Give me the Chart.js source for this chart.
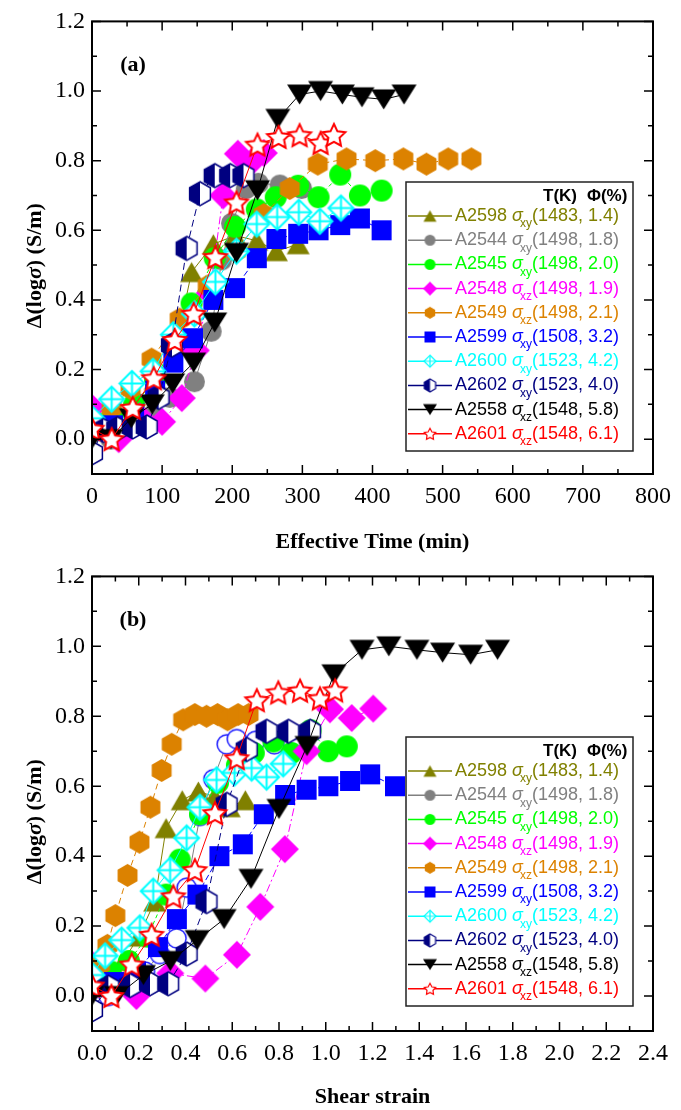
<!DOCTYPE html>
<html>
<head>
<meta charset="utf-8">
<script src="https://cdn.jsdelivr.net/npm/chart.js@4.4.1/dist/chart.umd.min.js"></script>
<style>
  html, body { margin: 0; padding: 0; background: #fff; }
  .panel { width: 681px; height: 555px; }
  canvas { display: block; }
</style>
</head>
<body>
<div class="panel"><canvas id="chartA" width="681" height="555"></canvas></div>
<div class="panel"><canvas id="chartB" width="681" height="555"></canvas></div>
<script>
// Conductivity change Δ(logσ) against effective time (a) and shear strain (b)

const timeTicks = [0, 100, 200, 300, 400, 500, 600, 700, 800];
const timeMinor = [50, 150, 250, 350, 450, 550, 650, 750];
const strainTicks = [0, 0.2, 0.4, 0.6, 0.8, 1.0, 1.2, 1.4, 1.6, 1.8, 2.0, 2.2, 2.4];
const strainMinor = [0.1, 0.3, 0.5, 0.7, 0.9, 1.1, 1.3, 1.5, 1.7, 1.9, 2.1, 2.3];
const dlogTicks = [0, 0.2, 0.4, 0.6, 0.8, 1.0, 1.2];
const dlogMinor = [0.1, 0.3, 0.5, 0.7, 0.9, 1.1];

// A2598 σxy (1483, 1.4)
const timeA2598 = [0, 30, 60, 90, 120, 142, 173, 204, 235, 263, 294];
const strainA2598 = [0, 0.067, 0.134, 0.2, 0.268, 0.317, 0.386, 0.455, 0.524, 0.587, 0.656];
const dlogA2598 = [0.04, 0.07, 0.10, 0.17, 0.27, 0.48, 0.56, 0.585, 0.57, 0.54, 0.56];

// A2544 σxy (1498, 1.8)
const timeA2544 = [0, 27, 58, 87, 111, 146, 170, 185, 199, 220, 237, 268, 299];
const strainA2544 = [0, 0.07, 0.15, 0.227, 0.29, 0.362, 0.405, 0.462, 0.519, 0.576, 0.619, 0.70, 0.78];
const dlogA2544 = [0.02, 0.0, 0.04, 0.07, 0.12, 0.165, 0.31, 0.515, 0.62, 0.72, 0.735, 0.73, 0.72];

// A2545 σxy (1498, 2.0)
const timeA2545 = [0, 30, 60, 90, 120, 142, 175, 204, 235, 262, 294, 323, 354, 382, 413];
const strainA2545 = [0, 0.08, 0.158, 0.238, 0.317, 0.375, 0.462, 0.539, 0.62, 0.692, 0.776, 0.853, 0.935, 1.01, 1.09];
const dlogA2545 = [0.06, 0.07, 0.10, 0.17, 0.29, 0.39, 0.52, 0.61, 0.66, 0.695, 0.728, 0.695, 0.76, 0.70, 0.714];

// A2548 σxz (1498, 1.9)
const timeA2548 = [0, 38, 68, 100, 128, 148, 168, 187, 208, 227, 245];
const strainA2548 = [0, 0.19, 0.335, 0.485, 0.62, 0.72, 0.825, 0.918, 1.018, 1.111, 1.203];
const dlogA2548 = [0.09, 0.0, 0.065, 0.05, 0.118, 0.255, 0.42, 0.70, 0.82, 0.795, 0.822];

// A2549 σxz (1498, 2.1)
const timeA2549 = [0, 28, 55, 85, 125, 165, 205, 245, 282, 322, 363, 404, 444, 477, 508, 541];
const strainA2549 = [0, 0.034, 0.066, 0.1, 0.152, 0.203, 0.25, 0.298, 0.341, 0.39, 0.44, 0.49, 0.537, 0.58, 0.625, 0.67];
const dlogA2549 = [0.05, 0.09, 0.145, 0.23, 0.345, 0.44, 0.54, 0.645, 0.72, 0.79, 0.805, 0.80, 0.805, 0.79, 0.805, 0.805];

// A2599 σxy (1508, 3.2)
const timeA2599 = [0, 30, 60, 90, 116, 144, 173, 204, 235, 263, 294, 323, 354, 382, 413];
const strainA2599 = [0, 0.094, 0.188, 0.282, 0.363, 0.451, 0.545, 0.645, 0.735, 0.826, 0.918, 1.011, 1.104, 1.19, 1.296];
const dlogA2599 = [0.03, 0.04, 0.07, 0.14, 0.22, 0.29, 0.40, 0.434, 0.52, 0.575, 0.59, 0.60, 0.615, 0.634, 0.60];

// A2600 σxy (1523, 4.2)
const timeA2600 = [0, 28, 57, 87, 116, 146, 176, 206, 235, 264, 295, 325, 355];
const strainA2600 = [0, 0.056, 0.127, 0.205, 0.262, 0.334, 0.405, 0.462, 0.533, 0.61, 0.683, 0.747, 0.818];
const dlogA2600 = [0.06, 0.115, 0.16, 0.195, 0.30, 0.36, 0.452, 0.54, 0.618, 0.638, 0.652, 0.626, 0.664];

// A2602 σxy (1523, 4.0)
const timeA2602 = [0, 16, 36, 58, 78, 95, 114, 135, 154, 175, 197, 216];
const strainA2602 = [0, 0.07, 0.163, 0.248, 0.326, 0.405, 0.49, 0.576, 0.662, 0.747, 0.84, 0.933];
const dlogA2602 = [-0.04, 0.025, 0.03, 0.035, 0.035, 0.12, 0.27, 0.548, 0.705, 0.757, 0.757, 0.757];

// A2558 σxz (1548, 5.8)
const timeA2558 = [0, 27, 56, 86, 115, 145, 175, 206, 236, 265, 296, 326, 357, 385, 416, 445];
const strainA2558 = [0, 0.105, 0.22, 0.335, 0.45, 0.565, 0.68, 0.80, 0.92, 1.035, 1.155, 1.27, 1.39, 1.50, 1.62, 1.735];
const dlogA2558 = [0.0, 0.0, 0.06, 0.10, 0.16, 0.22, 0.335, 0.535, 0.715, 0.92, 0.99, 1.0, 0.99, 0.982, 0.976, 0.99];

// A2601 σxz (1548, 6.1)
const timeA2601 = [0, 28, 58, 88, 118, 145, 176, 206, 236, 266, 296, 326, 345];
const strainA2601 = [0, 0.083, 0.17, 0.255, 0.348, 0.44, 0.526, 0.619, 0.705, 0.797, 0.89, 0.975, 1.04];
const dlogA2601 = [0.03, 0.0, 0.09, 0.175, 0.285, 0.36, 0.523, 0.68, 0.846, 0.868, 0.873, 0.851, 0.874];

// little canvases used as point styles
function makeMarker(kind, color, size, lw) {
  const dim = Math.ceil(size) + 4;
  const c = document.createElement('canvas');
  c.width = dim; c.height = dim;
  const g = c.getContext('2d');
  const m = dim / 2, r = size / 2;
  g.fillStyle = color; g.strokeStyle = color; g.lineWidth = lw || 1.5;
  g.lineJoin = 'miter';
  const poly = pts => {
    g.beginPath();
    pts.forEach(([x, y], i) => i ? g.lineTo(x, y) : g.moveTo(x, y));
    g.closePath();
  };
  const hexPts = () => [0, 1, 2, 3, 4, 5].map(k => {
    const a = -Math.PI / 2 + k * Math.PI / 3;
    return [m + r * Math.cos(a), m + r * Math.sin(a)];
  });
  switch (kind) {
    case 'triUp':
      poly([[m, m - r * 0.87], [m + r, m + r * 0.87], [m - r, m + r * 0.87]]); g.fill(); break;
    case 'triDown':
      poly([[m - r, m - r * 0.8], [m + r, m - r * 0.8], [m, m + r * 0.8]]); g.fill(); break;
    case 'circle':
      g.beginPath(); g.arc(m, m, r, 0, Math.PI * 2); g.fill(); break;
    case 'openCircle':
      g.beginPath(); g.arc(m, m, r - 1, 0, Math.PI * 2);
      g.fillStyle = '#fff'; g.fill(); g.stroke(); break;
    case 'diamond':
      poly([[m, m - r], [m + r, m], [m, m + r], [m - r, m]]); g.fill(); break;
    case 'square':
      g.fillRect(m - r, m - r, size, size); break;
    case 'hex':
      poly(hexPts()); g.fill(); break;
    case 'halfHex':
      poly(hexPts()); g.fillStyle = '#fff'; g.fill();
      g.save(); g.clip(); g.fillStyle = color; g.fillRect(0, 0, m, dim); g.restore();
      poly(hexPts()); g.stroke(); break;
    case 'crossDiamond': {
      const q = r - 1;
      poly([[m, m - q], [m + q, m], [m, m + q], [m - q, m]]);
      g.fillStyle = '#fff'; g.fill(); g.stroke();
      g.beginPath(); g.moveTo(m, m - q); g.lineTo(m, m + q);
      g.moveTo(m - q, m); g.lineTo(m + q, m); g.stroke(); break;
    }
    case 'star': {
      const pts = [];
      for (let k = 0; k < 10; k++) {
        const a = -Math.PI / 2 + k * Math.PI / 5;
        const rr = k % 2 ? r * 0.45 : r - 1;
        pts.push([m + rr * Math.cos(a), m + rr * Math.sin(a) + r * 0.08]);
      }
      poly(pts); g.fillStyle = '#fff'; g.fill(); g.stroke(); break;
    }
  }
  return c;
}

const series = [
  { name: 'A2598', comp: 'xy', cond: '(1483, 1.4)', color: '#808000', kind: 'triUp', size: 23, small: 13,
    time: timeA2598, strain: strainA2598, dlog: dlogA2598, dash: [] },
  { name: 'A2544', comp: 'xy', cond: '(1498, 1.8)', color: '#808080', kind: 'circle', size: 21, small: 11,
    time: timeA2544, strain: strainA2544, dlog: dlogA2544, dash: [],
    kindB: 'openCircle', colorB: '#1a1aff' },
  { name: 'A2545', comp: 'xy', cond: '(1498, 2.0)', color: '#00ff00', kind: 'circle', size: 22, small: 11,
    time: timeA2545, strain: strainA2545, dlog: dlogA2545, dash: [4, 3] },
  { name: 'A2548', comp: 'xz', cond: '(1498, 1.9)', color: '#ff00ff', kind: 'diamond', size: 28, small: 14,
    time: timeA2548, strain: strainA2548, dlog: dlogA2548, dash: [8, 3, 2, 3] },
  { name: 'A2549', comp: 'xz', cond: '(1498, 2.1)', color: '#dc8200', kind: 'hex', size: 23, small: 12,
    time: timeA2549, strain: strainA2549, dlog: dlogA2549, dash: [6, 4] },
  { name: 'A2599', comp: 'xy', cond: '(1508, 3.2)', color: '#0000ff', kind: 'square', size: 20, small: 11,
    time: timeA2599, strain: strainA2599, dlog: dlogA2599, dash: [6, 3] },
  { name: 'A2600', comp: 'xy', cond: '(1523, 4.2)', color: '#00ffff', kind: 'crossDiamond', size: 27, small: 14,
    time: timeA2600, strain: strainA2600, dlog: dlogA2600, dash: [] },
  { name: 'A2602', comp: 'xy', cond: '(1523, 4.0)', color: '#000080', kind: 'halfHex', size: 24, small: 13,
    time: timeA2602, strain: strainA2602, dlog: dlogA2602, dash: [7, 4] },
  { name: 'A2558', comp: 'xz', cond: '(1548, 5.8)', color: '#000000', kind: 'triDown', size: 25, small: 14,
    time: timeA2558, strain: strainA2558, dlog: dlogA2558, dash: [] },
  { name: 'A2601', comp: 'xz', cond: '(1548, 6.1)', color: '#ff0000', kind: 'star', size: 26, small: 14,
    time: timeA2601, strain: strainA2601, dlog: dlogA2601, dash: [] },
];

series.forEach(s => {
  const lw = s.kind === 'star' || s.kind === 'crossDiamond' ? 2 : 1.5;
  s.marker = makeMarker(s.kind, s.color, s.size, lw);
  s.markerB = s.kindB ? makeMarker(s.kindB, s.colorB, s.size, 1.5) : s.marker;
  s.legendMarker = makeMarker(s.kind, s.color, s.small, 1.2);
});

function buildDatasets(xKey, panelB) {
  return series.map((s, i) => ({
    label: s.name,
    data: s[xKey].map((x, k) => ({ x: x, y: s.dlog[k] })),
    showLine: true,
    borderColor: s.color,
    borderWidth: 1,
    borderDash: s.dash,
    pointStyle: panelB ? s.markerB : s.marker,
    pointRadius: 10,
    pointHoverRadius: 10,
    order: series.length - i,
    clip: 0,
  }));
}

function drawRich(ctx, parts, x, y) {
  parts.forEach(p => {
    ctx.font = p.font;
    ctx.fillText(p.text, x, y + (p.dy || 0));
    x += ctx.measureText(p.text).width + (p.dx || 0);
  });
  return x;
}

function richWidth(ctx, parts) {
  let w = 0;
  parts.forEach(p => { ctx.font = p.font; w += ctx.measureText(p.text).width + (p.dx || 0); });
  return w;
}

function drawLegend(ctx) {
  const bx = 406, by = 182, bw = 227, bh = 269;
  ctx.save();
  ctx.fillStyle = '#fff';
  ctx.fillRect(bx, by, bw, bh);
  ctx.strokeStyle = '#222';
  ctx.lineWidth = 1.5;
  ctx.strokeRect(bx, by, bw, bh);
  ctx.textBaseline = 'middle';
  ctx.textAlign = 'left';
  ctx.fillStyle = '#000';
  ctx.font = 'bold 17px "Liberation Sans"';
  ctx.fillText('T(K)', 543, 196);
  ctx.fillText('Φ(%)', 587, 196);
  series.forEach((s, i) => {
    const y = 216 + i * 24.2;
    ctx.strokeStyle = s.color;
    ctx.lineWidth = 1.5;
    ctx.setLineDash([]);
    ctx.beginPath();
    ctx.moveTo(408, y); ctx.lineTo(452, y);
    ctx.stroke();
    const mk = s.legendMarker;
    ctx.drawImage(mk, 430 - mk.width / 2, y - mk.height / 2);
    ctx.fillStyle = s.color;
    drawRich(ctx, [
      { text: s.name + ' ', font: '18px "Liberation Sans"' },
      { text: 'σ', font: 'italic 18px "Liberation Sans"', dx: -3 },
      { text: s.comp, font: '12px "Liberation Sans"', dy: 8 },
      { text: s.cond, font: '18px "Liberation Sans"' },
    ], 455, y);
  });
  ctx.restore();
}

function framePlugin(label, xTitle, xMajor, xMinor) {
  return {
    id: 'frame',
    afterDatasetsDraw(chart) {
      const { ctx, chartArea: a, scales } = chart;
      ctx.save();
      ctx.strokeStyle = '#000';
      ctx.lineWidth = 1.5;
      ctx.setLineDash([]);
      ctx.beginPath();
      const tick = (vals, len, horizontal) => vals.forEach(v => {
        if (horizontal) {
          const px = scales.x.getPixelForValue(v);
          ctx.moveTo(px, a.bottom); ctx.lineTo(px, a.bottom - len);
          ctx.moveTo(px, a.top); ctx.lineTo(px, a.top + len);
        } else {
          const py = scales.y.getPixelForValue(v);
          ctx.moveTo(a.left, py); ctx.lineTo(a.left + len, py);
          ctx.moveTo(a.right, py); ctx.lineTo(a.right - len, py);
        }
      });
      tick(xMajor, 9, true);
      tick(xMinor, 5, true);
      tick(dlogTicks, 9, false);
      tick(dlogMinor, 5, false);
      ctx.stroke();
      ctx.lineWidth = 2;
      ctx.strokeRect(a.left, a.top, a.right - a.left, a.bottom - a.top);
      ctx.restore();
    },
    afterDraw(chart) {
      const { ctx, chartArea: a } = chart;
      drawLegend(ctx);
      ctx.save();
      ctx.fillStyle = '#000';
      ctx.textBaseline = 'middle';
      ctx.textAlign = 'center';
      ctx.font = 'bold 22px "Liberation Serif"';
      ctx.fillText(label, a.left + 41, 65);
      ctx.font = 'bold 22px "Liberation Serif"';
      ctx.fillText(xTitle, (a.left + a.right) / 2, 542);
      // rotated y title with an italic sigma
      const parts = [
        { text: 'Δ(log', font: 'bold 22px "Liberation Serif"' },
        { text: 'σ', font: 'bold italic 22px "Liberation Serif"' },
        { text: ') (S/m)', font: 'bold 22px "Liberation Serif"' },
      ];
      ctx.textAlign = 'left';
      ctx.translate(35, (a.top + a.bottom) / 2 + 18);
      ctx.rotate(-Math.PI / 2);
      const w = richWidth(ctx, parts);
      drawRich(ctx, parts, -w / 2, 0);
      ctx.restore();
    }
  };
}

function makeChart(id, xKey, panelB, xMin, xMax, xMajor, xMinor, fmt, label, xTitle, topPad, xHeight) {
  const tickFont = { family: 'Liberation Serif', size: 24 };
  return new Chart(document.getElementById(id), {
    type: 'scatter',
    data: { datasets: buildDatasets(xKey, panelB) },
    options: {
      responsive: false,
      animation: false,
      layout: { padding: { top: topPad, right: 28, bottom: 0, left: 0 } },
      plugins: { legend: { display: false }, tooltip: { enabled: false } },
      elements: { line: { tension: 0 } },
      scales: {
        x: {
          type: 'linear', min: xMin, max: xMax,
          grid: { display: false, drawTicks: false },
          border: { display: false },
          afterBuildTicks: s => { s.ticks = xMajor.map(v => ({ value: v })); },
          afterFit: s => { s.height = xHeight; },
          ticks: { font: tickFont, color: '#000', padding: 8, maxRotation: 0, autoSkip: false, callback: fmt },
        },
        y: {
          type: 'linear', min: -0.1, max: 1.2,
          grid: { display: false, drawTicks: false },
          border: { display: false },
          afterBuildTicks: s => { s.ticks = dlogTicks.map(v => ({ value: v })); },
          afterFit: s => { s.width = 92; },
          ticks: { font: tickFont, color: '#000', padding: 7, autoSkip: false, callback: v => v.toFixed(1) },
        },
      },
    },
    plugins: [framePlugin(label, xTitle, xMajor, xMinor)],
  });
}

makeChart('chartA', 'time', false, 0, 800, timeTicks, timeMinor, v => String(v),
  '(a)', 'Effective Time (min)', 18, 81);
makeChart('chartB', 'strain', true, 0, 2.4, strainTicks, strainMinor, v => v.toFixed(1),
  '(b)', 'Shear strain', 21, 79);
</script>
</body>
</html>
